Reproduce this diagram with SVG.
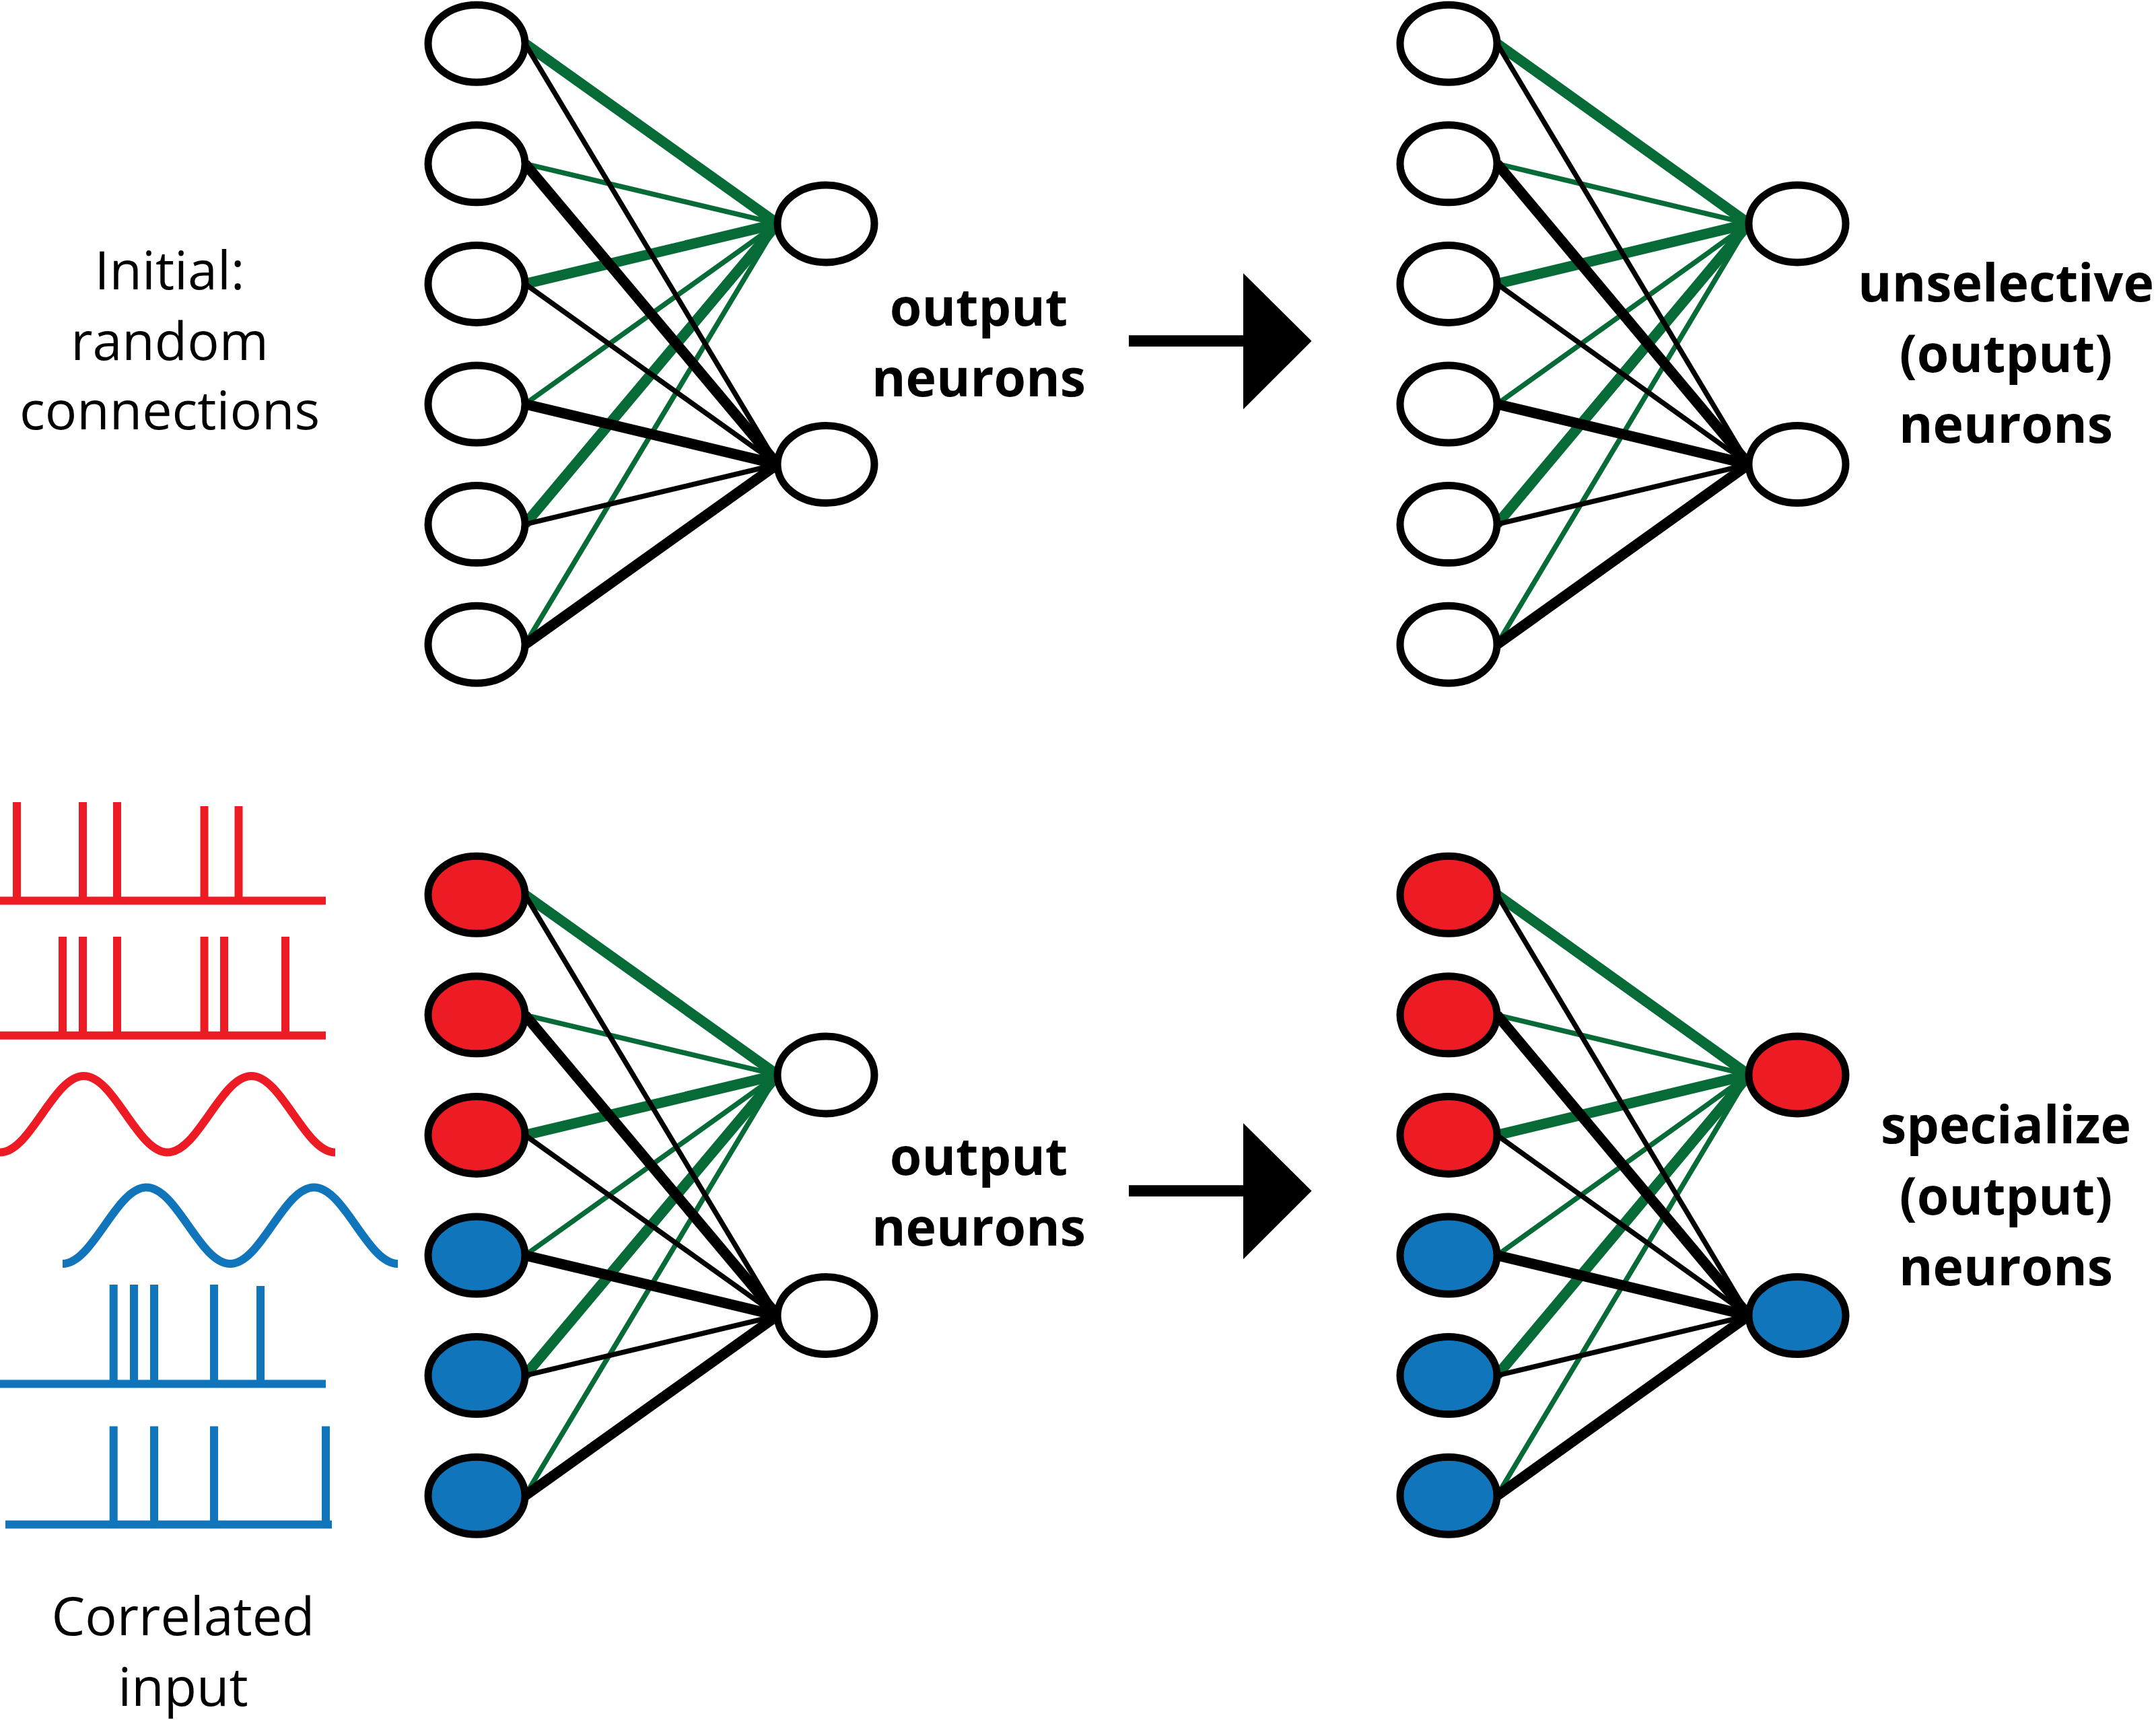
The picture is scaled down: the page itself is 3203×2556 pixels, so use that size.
<svg xmlns="http://www.w3.org/2000/svg" width="3203" height="2556" viewBox="0 0 3203 2556">
<style>
.bg{fill:#ffffff}
.node{stroke:#000;stroke-width:11}
.w{fill:#ffffff}.r{fill:#ed1c24}.b{fill:#1175bb}
.g1{stroke:#076b37;stroke-width:15.5;fill:none}
.g2{stroke:#076b37;stroke-width:7.5;fill:none}
.k1{stroke:#000;stroke-width:15.5;fill:none}
.k2{stroke:#000;stroke-width:7.5;fill:none}
.sr{stroke:#ed1c24;stroke-width:12;fill:none}
.sb{stroke:#1175bb;stroke-width:12;fill:none}
.lab{font-family:"Open Sans","Liberation Sans",sans-serif;font-size:79px;fill:#000;text-anchor:middle}
.bold{font-family:"Open Sans","Liberation Sans",sans-serif;font-size:77px;font-weight:700;fill:#000;text-anchor:middle}
</style>
<rect class="bg" x="0" y="0" width="3203" height="2556"/>

<g id="connectors">
  <!-- top-left network -->
  <g id="conn-top-left">
    <line class="g1" x1="780" y1="64.7" x2="1155" y2="332.4"/>
    <line class="g2" x1="780" y1="243.3" x2="1155" y2="332.4"/>
    <line class="g1" x1="780" y1="421.9" x2="1155" y2="332.4"/>
    <line class="g2" x1="780" y1="600.5" x2="1155" y2="332.4"/>
    <line class="g1" x1="780" y1="779.1" x2="1155" y2="332.4"/>
    <line class="g2" x1="780" y1="957.7" x2="1155" y2="332.4"/>
    <line class="k2" x1="780" y1="64.7" x2="1155" y2="690"/>
    <line class="k1" x1="780" y1="243.3" x2="1155" y2="690"/>
    <line class="k2" x1="780" y1="421.9" x2="1155" y2="690"/>
    <line class="k1" x1="780" y1="600.5" x2="1155" y2="690"/>
    <line class="k2" x1="780" y1="779.1" x2="1155" y2="690"/>
    <line class="k1" x1="780" y1="957.7" x2="1155" y2="690"/>
  </g>
  <!-- top-right network -->
  <g id="conn-top-right">
    <line class="g1" x1="2224" y1="64.7" x2="2598" y2="332.4"/>
    <line class="g2" x1="2224" y1="243.3" x2="2598" y2="332.4"/>
    <line class="g1" x1="2224" y1="421.9" x2="2598" y2="332.4"/>
    <line class="g2" x1="2224" y1="600.5" x2="2598" y2="332.4"/>
    <line class="g1" x1="2224" y1="779.1" x2="2598" y2="332.4"/>
    <line class="g2" x1="2224" y1="957.7" x2="2598" y2="332.4"/>
    <line class="k2" x1="2224" y1="64.7" x2="2598" y2="690"/>
    <line class="k1" x1="2224" y1="243.3" x2="2598" y2="690"/>
    <line class="k2" x1="2224" y1="421.9" x2="2598" y2="690"/>
    <line class="k1" x1="2224" y1="600.5" x2="2598" y2="690"/>
    <line class="k2" x1="2224" y1="779.1" x2="2598" y2="690"/>
    <line class="k1" x1="2224" y1="957.7" x2="2598" y2="690"/>
  </g>
  <!-- bottom-left network -->
  <g id="conn-bottom-left">
    <line class="g1" x1="780" y1="1329.7" x2="1155" y2="1597.4"/>
    <line class="g2" x1="780" y1="1508.3" x2="1155" y2="1597.4"/>
    <line class="g1" x1="780" y1="1686.9" x2="1155" y2="1597.4"/>
    <line class="g2" x1="780" y1="1865.5" x2="1155" y2="1597.4"/>
    <line class="g1" x1="780" y1="2044.1" x2="1155" y2="1597.4"/>
    <line class="g2" x1="780" y1="2222.7" x2="1155" y2="1597.4"/>
    <line class="k2" x1="780" y1="1329.7" x2="1155" y2="1955"/>
    <line class="k1" x1="780" y1="1508.3" x2="1155" y2="1955"/>
    <line class="k2" x1="780" y1="1686.9" x2="1155" y2="1955"/>
    <line class="k1" x1="780" y1="1865.5" x2="1155" y2="1955"/>
    <line class="k2" x1="780" y1="2044.1" x2="1155" y2="1955"/>
    <line class="k1" x1="780" y1="2222.7" x2="1155" y2="1955"/>
  </g>
  <!-- bottom-right network -->
  <g id="conn-bottom-right">
    <line class="g1" x1="2224" y1="1329.7" x2="2598" y2="1597.4"/>
    <line class="g2" x1="2224" y1="1508.3" x2="2598" y2="1597.4"/>
    <line class="g1" x1="2224" y1="1686.9" x2="2598" y2="1597.4"/>
    <line class="g2" x1="2224" y1="1865.5" x2="2598" y2="1597.4"/>
    <line class="g1" x1="2224" y1="2044.1" x2="2598" y2="1597.4"/>
    <line class="g2" x1="2224" y1="2222.7" x2="2598" y2="1597.4"/>
    <line class="k2" x1="2224" y1="1329.7" x2="2598" y2="1955"/>
    <line class="k1" x1="2224" y1="1508.3" x2="2598" y2="1955"/>
    <line class="k2" x1="2224" y1="1686.9" x2="2598" y2="1955"/>
    <line class="k1" x1="2224" y1="1865.5" x2="2598" y2="1955"/>
    <line class="k2" x1="2224" y1="2044.1" x2="2598" y2="1955"/>
    <line class="k1" x1="2224" y1="2222.7" x2="2598" y2="1955"/>
  </g>
  <!-- transition arrows -->
  <g id="arrow-top">
    <line x1="1677" y1="506.7" x2="1850" y2="506.7" stroke="#000" stroke-width="16.7"/>
    <polygon points="1847,406 1948.6,506.7 1847,608.3" fill="#000"/>
  </g>
  <g id="arrow-bottom">
    <line x1="1677" y1="1769.7" x2="1850" y2="1769.7" stroke="#000" stroke-width="16.7"/>
    <polygon points="1847,1669 1948.6,1769.7 1847,1871.3" fill="#000"/>
  </g>
</g>

<!-- top-left nodes -->
<g id="tl-in1"><ellipse class="node w" cx="708" cy="64.7" rx="72" ry="57.5"/></g>
<g id="tl-in2"><ellipse class="node w" cx="708" cy="243.3" rx="72" ry="57.5"/></g>
<g id="tl-in3"><ellipse class="node w" cx="708" cy="421.9" rx="72" ry="57.5"/></g>
<g id="tl-in4"><ellipse class="node w" cx="708" cy="600.5" rx="72" ry="57.5"/></g>
<g id="tl-in5"><ellipse class="node w" cx="708" cy="779.1" rx="72" ry="57.5"/></g>
<g id="tl-in6"><ellipse class="node w" cx="708" cy="957.7" rx="72" ry="57.5"/></g>
<g id="tl-out1"><ellipse class="node w" cx="1227" cy="332.4" rx="72" ry="57.5"/></g>
<g id="tl-out2"><ellipse class="node w" cx="1227" cy="690" rx="72" ry="57.5"/></g>

<!-- top-right nodes -->
<g id="tr-in1"><ellipse class="node w" cx="2152" cy="64.7" rx="72" ry="57.5"/></g>
<g id="tr-in2"><ellipse class="node w" cx="2152" cy="243.3" rx="72" ry="57.5"/></g>
<g id="tr-in3"><ellipse class="node w" cx="2152" cy="421.9" rx="72" ry="57.5"/></g>
<g id="tr-in4"><ellipse class="node w" cx="2152" cy="600.5" rx="72" ry="57.5"/></g>
<g id="tr-in5"><ellipse class="node w" cx="2152" cy="779.1" rx="72" ry="57.5"/></g>
<g id="tr-in6"><ellipse class="node w" cx="2152" cy="957.7" rx="72" ry="57.5"/></g>
<g id="tr-out1"><ellipse class="node w" cx="2670" cy="332.4" rx="72" ry="57.5"/></g>
<g id="tr-out2"><ellipse class="node w" cx="2670" cy="690" rx="72" ry="57.5"/></g>

<!-- bottom-left nodes -->
<g id="bl-in1"><ellipse class="node r" cx="708" cy="1329.7" rx="72" ry="57.5"/></g>
<g id="bl-in2"><ellipse class="node r" cx="708" cy="1508.3" rx="72" ry="57.5"/></g>
<g id="bl-in3"><ellipse class="node r" cx="708" cy="1686.9" rx="72" ry="57.5"/></g>
<g id="bl-in4"><ellipse class="node b" cx="708" cy="1865.5" rx="72" ry="57.5"/></g>
<g id="bl-in5"><ellipse class="node b" cx="708" cy="2044.1" rx="72" ry="57.5"/></g>
<g id="bl-in6"><ellipse class="node b" cx="708" cy="2222.7" rx="72" ry="57.5"/></g>
<g id="bl-out1"><ellipse class="node w" cx="1227" cy="1597.4" rx="72" ry="57.5"/></g>
<g id="bl-out2"><ellipse class="node w" cx="1227" cy="1955" rx="72" ry="57.5"/></g>

<!-- bottom-right nodes -->
<g id="br-in1"><ellipse class="node r" cx="2152" cy="1329.7" rx="72" ry="57.5"/></g>
<g id="br-in2"><ellipse class="node r" cx="2152" cy="1508.3" rx="72" ry="57.5"/></g>
<g id="br-in3"><ellipse class="node r" cx="2152" cy="1686.9" rx="72" ry="57.5"/></g>
<g id="br-in4"><ellipse class="node b" cx="2152" cy="1865.5" rx="72" ry="57.5"/></g>
<g id="br-in5"><ellipse class="node b" cx="2152" cy="2044.1" rx="72" ry="57.5"/></g>
<g id="br-in6"><ellipse class="node b" cx="2152" cy="2222.7" rx="72" ry="57.5"/></g>
<g id="br-out1"><ellipse class="node r" cx="2670" cy="1597.4" rx="72" ry="57.5"/></g>
<g id="br-out2"><ellipse class="node b" cx="2670" cy="1955" rx="72" ry="57.5"/></g>

<!-- input signals -->
<g id="signals">
  <g id="red-spikes-1">
    <line class="sr" x1="0" y1="1338.5" x2="484" y2="1338.5"/>
    <line class="sr" x1="25" y1="1192" x2="25" y2="1338.5"/>
    <line class="sr" x1="123" y1="1192" x2="123" y2="1338.5"/>
    <line class="sr" x1="174" y1="1192" x2="174" y2="1338.5"/>
    <line class="sr" x1="303.5" y1="1198" x2="303.5" y2="1338.5"/>
    <line class="sr" x1="354.5" y1="1198" x2="354.5" y2="1338.5"/>
  </g>
  <g id="red-spikes-2">
    <line class="sr" x1="0" y1="1538.7" x2="484" y2="1538.7"/>
    <line class="sr" x1="93" y1="1392" x2="93" y2="1538.7"/>
    <line class="sr" x1="123" y1="1392" x2="123" y2="1538.7"/>
    <line class="sr" x1="174" y1="1392" x2="174" y2="1538.7"/>
    <line class="sr" x1="303.5" y1="1392" x2="303.5" y2="1538.7"/>
    <line class="sr" x1="333" y1="1392" x2="333" y2="1538.7"/>
    <line class="sr" x1="424" y1="1392" x2="424" y2="1538.7"/>
  </g>
  <g id="red-wave">
    <path class="sr" d="M0,1712.5 C45.3,1712.5 79.2,1599 124.5,1599 C169.8,1599 203.7,1712.5 249,1712.5 C294.3,1712.5 328.2,1599 373.5,1599 C418.8,1599 452.7,1712.5 498,1712.5"/>
  </g>
  <g id="blue-wave">
    <path class="sb" d="M93,1878 C138.3,1878 172.2,1764.5 217.5,1764.5 C262.8,1764.5 296.7,1878 342,1878 C387.3,1878 421.2,1764.5 466.5,1764.5 C511.8,1764.5 545.7,1878 591,1878"/>
  </g>
  <g id="blue-spikes-1">
    <line class="sb" x1="0" y1="2056.5" x2="484" y2="2056.5"/>
    <line class="sb" x1="168.7" y1="1909" x2="168.7" y2="2056.5"/>
    <line class="sb" x1="199" y1="1909" x2="199" y2="2056.5"/>
    <line class="sb" x1="229" y1="1909" x2="229" y2="2056.5"/>
    <line class="sb" x1="318" y1="1909" x2="318" y2="2056.5"/>
    <line class="sb" x1="387" y1="1911" x2="387" y2="2056.5"/>
  </g>
  <g id="blue-spikes-2">
    <line class="sb" x1="8" y1="2265.5" x2="493" y2="2265.5"/>
    <line class="sb" x1="168.7" y1="2119.6" x2="168.7" y2="2265.5"/>
    <line class="sb" x1="229" y1="2119.6" x2="229" y2="2265.5"/>
    <line class="sb" x1="318" y1="2119.6" x2="318" y2="2265.5"/>
    <line class="sb" x1="484" y1="2119.6" x2="484" y2="2265.5"/>
  </g>
</g>

<!-- labels -->
<g id="label-initial">
  <text class="lab" x="252" y="430">Initial:</text>
  <text class="lab" x="252" y="535">random</text>
  <text class="lab" x="252" y="638">connections</text>
</g>
<g id="label-output-top">
  <text class="bold" x="1454" y="484">output</text>
  <text class="bold" x="1454" y="589">neurons</text>
</g>
<g id="label-unselective">
  <text class="bold" x="2980" y="448">unselective</text>
  <text class="bold" x="2980" y="553">(output)</text>
  <text class="bold" x="2980" y="658">neurons</text>
</g>
<g id="label-output-bottom">
  <text class="bold" x="1454" y="1746">output</text>
  <text class="bold" x="1454" y="1851">neurons</text>
</g>
<g id="label-specialize">
  <text class="bold" x="2980" y="1699">specialize</text>
  <text class="bold" x="2980" y="1805">(output)</text>
  <text class="bold" x="2980" y="1910">neurons</text>
</g>
<g id="label-correlated">
  <text class="lab" x="272" y="2430">Correlated</text>
  <text class="lab" x="272" y="2535">input</text>
</g>
</svg>
